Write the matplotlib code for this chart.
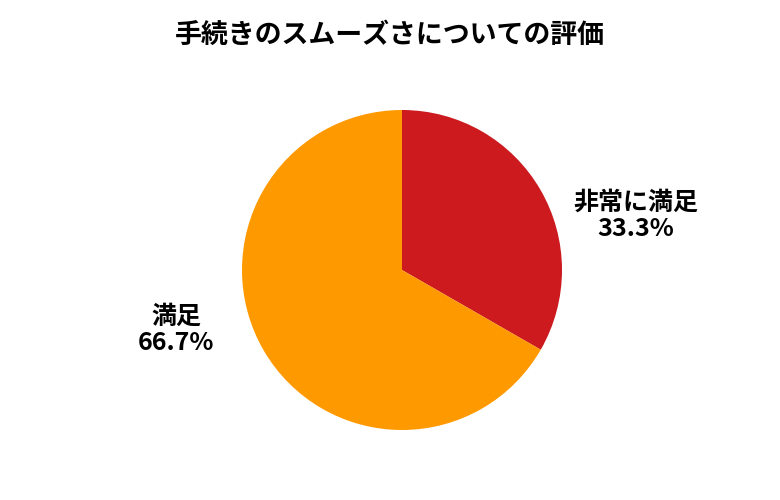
import matplotlib.pyplot as plt

plt.rcParams['font.family'] = ['Noto Sans CJK JP', 'DejaVu Sans']

title = '手続きのスムーズさについての評価'
labels = ['非常に満足', '満足']
values = [33.3, 66.7]
colors = ['#CC1A1F', '#FF9900']

fig = plt.figure(figsize=(7.8, 5.0), dpi=100)
ax = fig.add_axes([242 / 780, 70 / 500, 320 / 780, 320 / 500])
ax.pie(values, colors=colors, startangle=90, counterclock=False, radius=1)
ax.set_xlim(-1, 1)
ax.set_ylim(-1, 1)
ax.set_aspect('equal')

# label positions (outside the pie, left / right)
pos = [(1.46, 0.34), (-1.41, -0.375)]
for (x, y), lab, v in zip(pos, labels, values):
    ax.text(x, y, f'{lab}\n{v:.1f}%', ha='center', va='center',
            fontsize=18, fontweight='bold', linespacing=1.1, clip_on=False)

fig.text(0.5, 1 - 35 / 500, title, ha='center', va='center',
         fontsize=19.4, fontweight='bold')

fig.savefig('out.png', dpi=100)
